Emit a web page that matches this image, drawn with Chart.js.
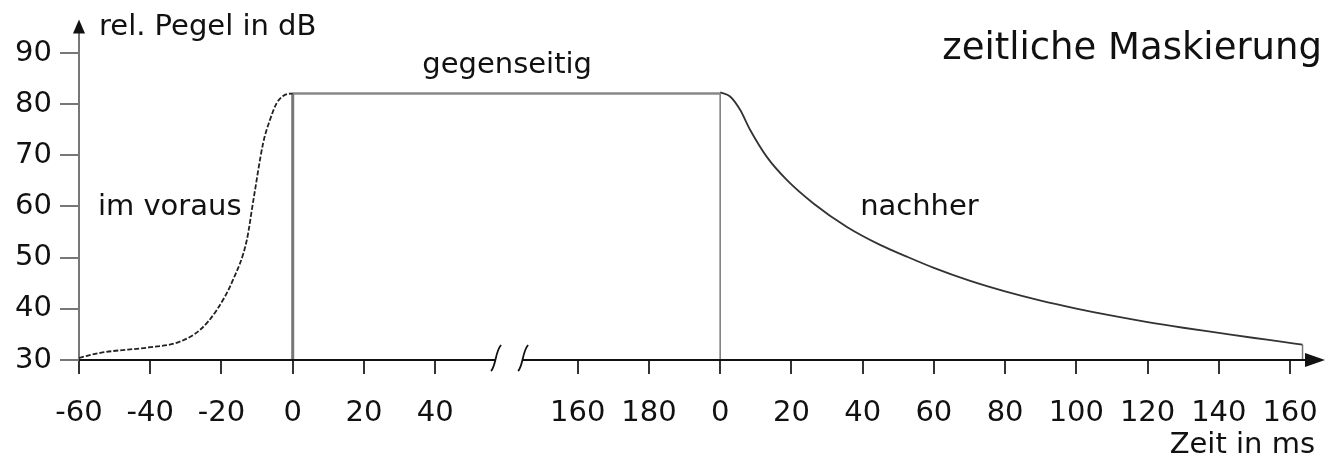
<!DOCTYPE html>
<html>
<head>
<meta charset="utf-8">
<script src="https://cdn.jsdelivr.net/npm/chart.js@4.4.1/dist/chart.umd.min.js"></script>
<style>
  html, body { margin: 0; padding: 0; background: #fff; }
  #wrap { width: 1328px; height: 458px; }
</style>
</head>
<body>
<div id="wrap"><canvas id="maskChart"></canvas></div>
<script>
// Vormaskierung: Zeit vor dem Maskierer (ms) und rel. Pegel (dB)
const preTimes  = [-60, -54, -40, -32, -26, -21.3, -16.8, -12.9, -11.1, -8.3, -6.4, -4.5, -2.7, -1.3, 0];
const preLevels = [30.4, 31.4, 32.5, 33.5, 35.9, 39.8, 45.6, 53.4, 61.0, 72.4, 76.9, 80.2, 81.6, 82.0, 82.1];

// Nachmaskierung: Zeit nach Ende des Maskierers (ms)
const postTimes  = [0, 2.8, 5.6, 8.4, 13.1, 18.7, 26.2, 35.6, 44.9, 52.4, 60, 70, 80, 90, 100, 110, 120, 130, 140, 150, 157, 163.5];
const postLevels = [82.3, 81.5, 78.9, 75.0, 69.7, 65.2, 60.6, 56.0, 52.5, 50.2, 48.0, 45.5, 43.4, 41.6, 40.05, 38.65, 37.4, 36.3, 35.3, 34.3, 33.65, 33.0];

const peakLevel = 82.1;   // Pegel des Maskierers
const baseLevel = 30;
const postOffset = 120;   // Achsposition der "0" nach dem Maskierer (Achse ist gebrochen)
const breakFrom = 56.8, breakTo = 64.4;

const xTickPos    = [-60, -40, -20, 0, 20, 40, 80, 100, 120, 140, 160, 180, 200, 220, 240, 260, 280];
const xTickLabels = ['-60', '-40', '-20', '0', '20', '40', '160', '180', '0', '20', '40', '60', '80', '100', '120', '140', '160'];
const yTicks = [30, 40, 50, 60, 70, 80, 90];

// Beschriftungen im Diagramm (Datenkoordinaten)
const regionLabels = [
    { text: 'im voraus',   x: -54.7, y: 58.3, align: 'left' },
    { text: 'gegenseitig', x: 60.2,  y: 86.1, align: 'center' },
    { text: 'nachher',     x: 159.3, y: 58.3, align: 'left' }
];

const FONT = '"DejaVu Sans", sans-serif';
const INK = '#111';
Chart.defaults.font.family = FONT;

const toPts = (xs, ys, off) => xs.map((t, i) => ({ x: t + (off || 0), y: ys[i] }));
const lastPost = postTimes[postTimes.length - 1] + postOffset;

const decor = {
    id: 'decor',
    afterDraw(chart) {
        const { ctx, chartArea: a, scales: { x, y } } = chart;
        ctx.save();
        const y0 = a.bottom;
        const b1 = x.getPixelForValue(breakFrom), b2 = x.getPixelForValue(breakTo);

        // x-Achse mit Bruch
        ctx.strokeStyle = INK;
        ctx.lineWidth = 2;
        ctx.beginPath();
        ctx.moveTo(a.left, y0); ctx.lineTo(b1, y0);
        ctx.moveTo(b2, y0); ctx.lineTo(a.right - 4, y0);
        ctx.stroke();

        // Bruchzeichen
        ctx.lineWidth = 1.8;
        [b1, b2].forEach(bx => {
            ctx.beginPath();
            ctx.moveTo(bx - 4, y0 + 11);
            ctx.bezierCurveTo(bx + 1, y0 + 6, bx, y0 - 8, bx + 6, y0 - 15);
            ctx.stroke();
        });

        // Pfeilspitzen
        ctx.fillStyle = INK;
        ctx.beginPath();
        ctx.moveTo(a.right + 10, y0);
        ctx.lineTo(a.right - 10, y0 - 7);
        ctx.lineTo(a.right - 10, y0 + 7);
        ctx.closePath();
        ctx.fill();

        ctx.beginPath();
        ctx.moveTo(a.left, a.top - 8);
        ctx.lineTo(a.left - 6, a.top + 6);
        ctx.lineTo(a.left + 6, a.top + 6);
        ctx.closePath();
        ctx.fill();

        // Texte
        ctx.fillStyle = INK;
        ctx.textBaseline = 'alphabetic';
        ctx.font = '29px ' + FONT;
        ctx.textAlign = 'left';
        ctx.fillText('rel. Pegel in dB', a.left + 20, 35);
        ctx.textAlign = 'right';
        ctx.fillText('Zeit in ms', a.right, 453);

        regionLabels.forEach(l => {
            ctx.textAlign = l.align;
            ctx.fillText(l.text, x.getPixelForValue(l.x), y.getPixelForValue(l.y));
        });

        ctx.font = '37px ' + FONT;
        ctx.textAlign = 'right';
        ctx.fillText('zeitliche Maskierung', 1322, 59);
        ctx.restore();
    }
};

new Chart(document.getElementById('maskChart'), {
    type: 'line',
    data: {
        datasets: [
            {
                label: 'im voraus',
                data: toPts(preTimes, preLevels),
                borderColor: '#222',
                borderWidth: 1.8,
                borderDash: [5, 2],
                cubicInterpolationMode: 'monotone'
            },
            {
                label: 'Einsatz',
                data: [{ x: 0, y: baseLevel }, { x: 0, y: peakLevel }],
                borderColor: '#777',
                borderWidth: 3
            },
            {
                label: 'gegenseitig',
                data: [{ x: 0, y: peakLevel }, { x: postOffset, y: peakLevel }],
                borderColor: '#888',
                borderWidth: 2.5
            },
            {
                label: 'Ende',
                data: [{ x: postOffset, y: peakLevel }, { x: postOffset, y: baseLevel }],
                borderColor: '#777',
                borderWidth: 1.5
            },
            {
                label: 'nachher',
                data: toPts(postTimes, postLevels, postOffset),
                borderColor: '#333',
                borderWidth: 1.8,
                cubicInterpolationMode: 'monotone'
            },
            {
                label: 'Abfall',
                data: [{ x: lastPost, y: postLevels[postLevels.length - 1] }, { x: lastPost, y: baseLevel }],
                borderColor: '#777',
                borderWidth: 1.5
            }
        ]
    },
    options: {
        responsive: true,
        maintainAspectRatio: false,
        animation: false,
        layout: { padding: { top: 27.4, right: 13, left: 0, bottom: 0 } },
        elements: { point: { radius: 0, hoverRadius: 0 } },
        plugins: {
            legend: { display: false },
            tooltip: { enabled: false }
        },
        scales: {
            x: {
                type: 'linear',
                min: -60,
                max: 287,
                afterBuildTicks: s => { s.ticks = xTickPos.map(v => ({ value: v })); },
                afterFit: s => { s.height = 98; s.paddingLeft = 0; s.paddingRight = 0; },
                ticks: {
                    autoSkip: false,
                    maxRotation: 0,
                    padding: 22,
                    color: INK,
                    font: { size: 29 },
                    callback: (v, i) => xTickLabels[i]
                },
                grid: { drawOnChartArea: false, tickLength: 14, color: '#333', lineWidth: 2 },
                border: { display: false }
            },
            y: {
                min: 30,
                max: 95,
                afterBuildTicks: s => { s.ticks = yTicks.map(v => ({ value: v })); },
                afterFit: s => { s.width = 79; s.paddingTop = 0; s.paddingBottom = 0; },
                ticks: {
                    padding: 8,
                    color: INK,
                    font: { size: 29 }
                },
                grid: { drawOnChartArea: false, tickLength: 19, color: '#777', lineWidth: 2 },
                border: { display: true, color: '#777', width: 2 }
            }
        }
    },
    plugins: [decor]
});
</script>
</body>
</html>
